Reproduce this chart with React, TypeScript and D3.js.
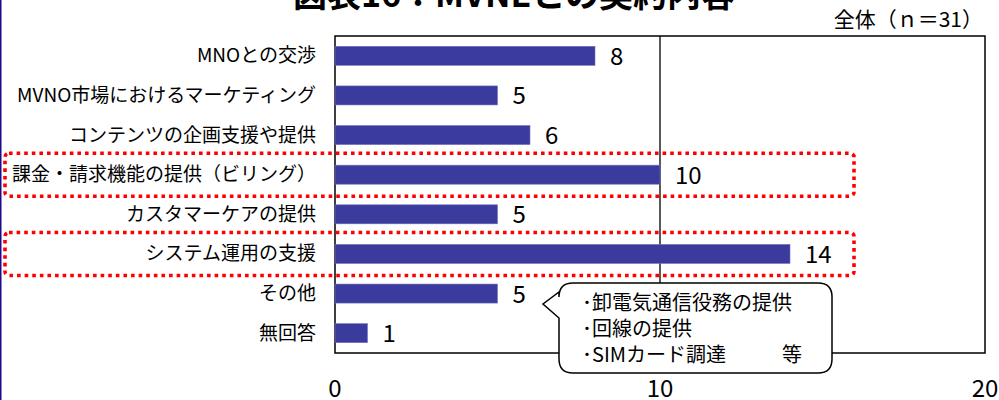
import React from "react";
import * as d3 from "d3";

// Contract items with MVNE (n = 31)
const categories = [
  "MNOとの交渉",
  "MVNO市場におけるマーケティング",
  "コンテンツの企画支援や提供",
  "課金・請求機能の提供（ビリング）",
  "カスタマーケアの提供",
  "システム運用の支援",
  "その他",
  "無回答",
];
const counts = [8, 5, 6, 10, 5, 14, 5, 1];
const xTicks = [0, 10, 20];
const highlighted = ["課金・請求機能の提供（ビリング）", "システム運用の支援"];
const calloutLines = ["･卸電気通信役務の提供", "･回線の提供", "･SIMカード調達"];
const titleText = "図表16：MVNEとの契約内容";
const sampleText = "全体（ｎ＝31）";

const W = 999;
const H = 400;
const FONT = "'Noto Sans CJK JP', 'Noto Sans', sans-serif";
const BAR = "#3B3B9E";

export default function App() {
  const x = d3.scaleLinear().domain([0, 20]).range([335, 985]);
  const y = d3
    .scaleBand<string>()
    .domain(categories)
    .range([36, 353])
    .paddingInner(0.52)
    .paddingOuter(0.26);

  const plotTop = 36;
  const plotBottom = 353;

  // speech bubble with a tail pointing at the "その他" bar label
  const bx0 = 559, bx1 = 832, by0 = 283, by1 = 373, r = 14;
  const tipX = 543, tipY = 304;
  const bubble = [
    `M${bx0 + r},${by0}`,
    `H${bx1 - r}`,
    `Q${bx1},${by0} ${bx1},${by0 + r}`,
    `V${by1 - r}`,
    `Q${bx1},${by1} ${bx1 - r},${by1}`,
    `H${bx0 + r}`,
    `Q${bx0},${by1} ${bx0},${by1 - r}`,
    `V${tipY + 14}`,
    `L${tipX},${tipY}`,
    `L${bx0},${tipY - 12}`,
    `V${by0 + r}`,
    `Q${bx0},${by0} ${bx0 + r},${by0}`,
    "Z",
  ].join(" ");

  return (
    <svg
      width={W}
      height={H}
      style={{ position: "absolute", left: 0, top: 0, background: "#fff" }}
      fontFamily={FONT}
    >
      <rect x={0} y={0} width={W} height={H} fill="#fff" />
      <rect x={0} y={0} width={1.5} height={H} fill="#1E0A8C" />

      {/* title (partly above the visible area) */}
      <text x={514} y={7} textAnchor="middle" fontSize={34} fontWeight="bold" fill="#000">
        {titleText}
      </text>
      <text x={983} y={27} textAnchor="end" fontSize={21} fill="#000">
        {sampleText}
      </text>

      {/* plot frame and gridline */}
      <rect
        x={x(0)}
        y={plotTop}
        width={x(20) - x(0)}
        height={plotBottom - plotTop}
        fill="none"
        stroke="#000"
        strokeWidth={1.5}
      />
      <line x1={x(10)} x2={x(10)} y1={plotTop} y2={plotBottom} stroke="#000" strokeWidth={1.3} />

      {/* highlight boxes */}
      {highlighted.map((c) => {
        const cy = (y(c) as number) + y.bandwidth() / 2;
        return (
          <rect
            key={c}
            x={5}
            y={cy - 21.5}
            width={849}
            height={43}
            rx={4}
            fill="none"
            stroke="#FF0000"
            strokeWidth={3.6}
            strokeDasharray="3.6 4"
          />
        );
      })}

      {/* bars */}
      {categories.map((c, i) => (
        <rect
          key={c}
          x={x(0)}
          y={y(c)}
          width={x(counts[i]) - x(0)}
          height={y.bandwidth()}
          fill={BAR}
          stroke="#7070C0"
          strokeWidth={0.6}
        />
      ))}

      {/* value labels */}
      {categories.map((c, i) => (
        <text
          key={c}
          x={x(counts[i]) + 15}
          y={(y(c) as number) + y.bandwidth() / 2 + 9}
          fontSize={24}
          fill="#000"
        >
          {counts[i]}
        </text>
      ))}

      {/* category labels */}
      {categories.map((c) => (
        <text
          key={c}
          x={316}
          y={(y(c) as number) + y.bandwidth() / 2 + 6.5}
          textAnchor="end"
          fontSize={19}
          fill="#000"
        >
          {c}
        </text>
      ))}

      {/* x-axis tick labels */}
      {xTicks.map((t) => (
        <text key={t} x={x(t)} y={397} textAnchor="middle" fontSize={24} fill="#000">
          {t}
        </text>
      ))}

      {/* note bubble */}
      <path d={bubble} fill="#fff" stroke="#000" strokeWidth={1.5} />
      {calloutLines.map((s, i) => (
        <text key={s} x={582} y={310 + i * 26} fontSize={20} fill="#000">
          {s}
        </text>
      ))}
      <text x={782} y={362} fontSize={20} fill="#000">
        等
      </text>
    </svg>
  );
}
